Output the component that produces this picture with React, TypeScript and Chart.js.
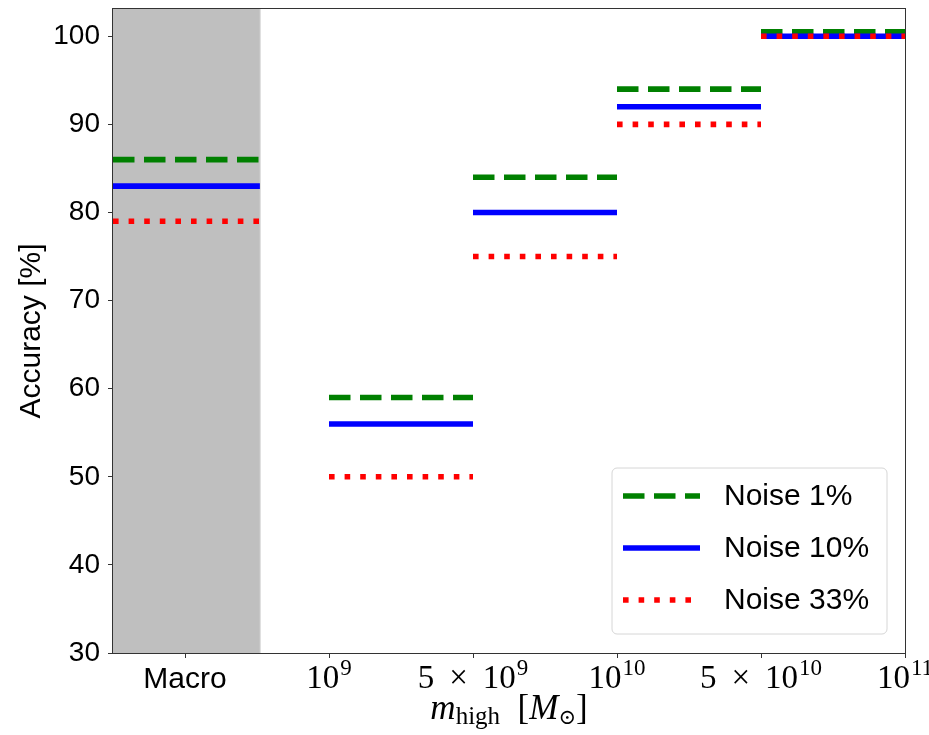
import React, { useEffect, useRef } from 'react';
import { Chart, registerables } from 'chart.js';

Chart.register(...registerables);

// ---- data ----
const binStart = [0, 1.5, 2.5, 3.5, 4.5];
const binEnd = [1.02, 2.5, 3.5, 4.5, 5.5];
const noise1 = [86, 59, 84, 94, 100.5];
const noise10 = [83, 56, 80, 92, 100];
const noise33 = [79, 50, 75, 90, 100];
const seriesLabels = ['Noise 1%', 'Noise 10%', 'Noise 33%'];
const xTickValues = [0.5, 1.5, 2.5, 3.5, 4.5, 5.5];
const xTickLabels = ['Macro', '10^9', '5 × 10^9', '10^10', '5 × 10^10', '10^11'];
const yTickValues = [30, 40, 50, 60, 70, 80, 90, 100];
const macroSpan = [0, 1.02];
const yLabel = 'Accuracy [%]';

const COLORS = ['#008000', '#0000ff', '#ff0000'];
const DASHES: number[][] = [[21.5, 9.5], [], [5.6, 10]];
const LW = 5.6;

const SANS = '"Liberation Sans", Arial, sans-serif';
const SERIF = '"Liberation Serif", "DejaVu Serif", serif';

function segments(values: number[]) {
  const pts: { x: number; y: number | null }[] = [];
  values.forEach((v, i) => {
    pts.push({ x: binStart[i], y: v });
    pts.push({ x: binEnd[i], y: v });
    if (i < values.length - 1) pts.push({ x: binEnd[i], y: null });
  });
  return pts;
}

const customPlugin = {
  id: 'customDecor',
  beforeDraw(chart: any) {
    const { ctx, width, height } = chart;
    ctx.save();
    ctx.fillStyle = '#ffffff';
    ctx.fillRect(0, 0, width, height);
    ctx.restore();
  },
  beforeDatasetsDraw(chart: any) {
    const { ctx, chartArea } = chart;
    const x = chart.scales.x;
    const x0 = x.getPixelForValue(macroSpan[0]);
    const x1 = x.getPixelForValue(macroSpan[1]);
    ctx.save();
    ctx.fillStyle = '#bfbfbf';
    ctx.fillRect(x0, chartArea.top, x1 - x0, chartArea.bottom - chartArea.top);
    ctx.strokeStyle = 'rgba(0,0,0,0.12)';
    ctx.lineWidth = 1;
    ctx.beginPath();
    ctx.moveTo(Math.round(x1) + 0.5, chartArea.top);
    ctx.lineTo(Math.round(x1) + 0.5, chartArea.bottom);
    ctx.stroke();
    ctx.restore();
  },
  afterDraw(chart: any) {
    const { ctx, chartArea } = chart;
    const x = chart.scales.x;
    ctx.save();
    // spines
    ctx.strokeStyle = '#333333';
    ctx.lineWidth = 1;
    ctx.strokeRect(
      Math.round(chartArea.left) - 0.5,
      Math.round(chartArea.top) - 0.5,
      Math.round(chartArea.right - chartArea.left) + 1,
      Math.round(chartArea.bottom - chartArea.top) + 1
    );

    // x tick labels
    const baseY = chartArea.bottom + 35;
    ctx.fillStyle = '#000';
    ctx.textBaseline = 'alphabetic';
    xTickValues.forEach((v, i) => {
      const px = x.getPixelForValue(v);
      const lab = xTickLabels[i];
      if (lab.indexOf('^') < 0) {
        ctx.font = `30px ${SANS}`;
        ctx.textAlign = 'center';
        ctx.fillText(lab, px, baseY);
      } else {
        const [baseRaw, exp] = lab.split('^');
        const base = baseRaw.replace(' × ', '\u2009 × \u2009');
        ctx.textAlign = 'left';
        ctx.font = `33px ${SERIF}`;
        const wb = ctx.measureText(base).width;
        ctx.font = `23px ${SERIF}`;
        const we = ctx.measureText(exp).width;
        const sx = px - (wb + we + 1) / 2;
        ctx.font = `33px ${SERIF}`;
        ctx.fillText(base, sx, baseY);
        ctx.font = `23px ${SERIF}`;
        ctx.fillText(exp, sx + wb + 1, baseY - 13);
      }
    });

    // x title: m_high [M_sun]
    const pieces = [
      { t: 'm', f: `italic 35px ${SERIF}`, dy: 0 },
      { t: 'high', f: `25px ${SERIF}`, dy: 5 },
      { t: '  [', f: `35px ${SERIF}`, dy: 0 },
      { t: 'M', f: `italic 35px ${SERIF}`, dy: 0 },
      { t: '⊙', f: `21px ${SERIF}`, dy: 5 },
      { t: ']', f: `35px ${SERIF}`, dy: 0 },
    ];
    let total = 0;
    const widths = pieces.map((p) => {
      ctx.font = p.f;
      const w = ctx.measureText(p.t).width;
      total += w;
      return w;
    });
    const cx = (chartArea.left + chartArea.right) / 2;
    let tx = cx - total / 2;
    const titleY = chartArea.bottom + 66;
    ctx.textAlign = 'left';
    pieces.forEach((p, i) => {
      ctx.font = p.f;
      ctx.fillText(p.t, tx, titleY + p.dy);
      tx += widths[i];
    });

    // legend
    const bw = 275;
    const bh = 166;
    const bx = chartArea.right - 18 - bw;
    const by = chartArea.bottom - 19 - bh;
    ctx.beginPath();
    const r = 5;
    ctx.moveTo(bx + r, by);
    ctx.arcTo(bx + bw, by, bx + bw, by + bh, r);
    ctx.arcTo(bx + bw, by + bh, bx, by + bh, r);
    ctx.arcTo(bx, by + bh, bx, by, r);
    ctx.arcTo(bx, by, bx + bw, by, r);
    ctx.closePath();
    ctx.fillStyle = 'rgba(255,255,255,0.8)';
    ctx.fill();
    ctx.strokeStyle = '#d6d6d6';
    ctx.lineWidth = 1;
    ctx.stroke();

    seriesLabels.forEach((lab, i) => {
      const ry = by + 28 + i * 52;
      ctx.save();
      ctx.strokeStyle = COLORS[i];
      ctx.lineWidth = LW;
      ctx.lineCap = 'butt';
      ctx.setLineDash(DASHES[i]);
      ctx.beginPath();
      ctx.moveTo(bx + 11, ry);
      ctx.lineTo(bx + 88, ry);
      ctx.stroke();
      ctx.restore();
      ctx.fillStyle = '#000';
      ctx.font = `30px ${SANS}`;
      ctx.textAlign = 'left';
      ctx.textBaseline = 'middle';
      ctx.fillText(lab, bx + 112, ry + 1);
    });
    ctx.restore();
  },
};

export default function App() {
  const ref = useRef<HTMLCanvasElement | null>(null);
  useEffect(() => {
    document.body.style.margin = '0';
    const canvas = ref.current;
    if (!canvas) return;
    const series = [noise1, noise10, noise33];
    const chart = new Chart(canvas, {
      type: 'line',
      data: {
        datasets: series.map((vals, i) => ({
          label: seriesLabels[i],
          data: segments(vals) as any,
          borderColor: COLORS[i],
          backgroundColor: COLORS[i],
          borderWidth: LW,
          borderDash: DASHES[i],
          borderCapStyle: 'butt',
          pointRadius: 0,
          pointHoverRadius: 0,
          fill: false,
          spanGaps: false,
          tension: 0,
          order: 3 - i,
        })),
      },
      options: {
        responsive: false,
        maintainAspectRatio: false,
        devicePixelRatio: 1,
        animation: false,
        events: [],
        layout: { padding: { left: 0, right: 24, top: 9, bottom: 0 } },
        plugins: {
          legend: { display: false },
          tooltip: { enabled: false },
          title: { display: false },
        },
        scales: {
          x: {
            type: 'linear',
            min: 0,
            max: 5.5,
            afterBuildTicks: (scale: any) => {
              scale.ticks = xTickValues.map((v) => ({ value: v }));
            },
            afterFit: (scale: any) => {
              scale.height = 82;
              scale.paddingLeft = 0;
              scale.paddingRight = 0;
            },
            ticks: {
              autoSkip: false,
              maxRotation: 0,
              callback: () => '',
            },
            grid: {
              drawOnChartArea: false,
              drawTicks: true,
              tickLength: 5,
              color: '#333333',
              lineWidth: 1,
            },
            border: { display: false },
          },
          y: {
            type: 'linear',
            min: 30,
            max: 103.1,
            afterBuildTicks: (scale: any) => {
              scale.ticks = yTickValues.map((v) => ({ value: v }));
            },
            afterFit: (scale: any) => {
              scale.width = 113;
              scale.paddingTop = 0;
              scale.paddingBottom = 0;
            },
            ticks: {
              includeBounds: false,
              color: '#000',
              padding: 8,
              font: { family: SANS, size: 28 },
              callback: (v: any) => String(v),
            },
            grid: {
              drawOnChartArea: false,
              drawTicks: true,
              tickLength: 5,
              color: '#333333',
              lineWidth: 1,
            },
            border: { display: false },
            title: {
              display: true,
              text: yLabel,
              color: '#000',
              font: { family: SANS, size: 30 },
              padding: { top: 14, bottom: 0 },
            },
          },
        },
      },
      plugins: [customPlugin],
    } as any);
    return () => chart.destroy();
  }, []);
  return (
    <div style={{ position: 'absolute', left: 0, top: 0, width: 929, height: 735 }}>
      <canvas ref={ref} width={929} height={735} style={{ width: 929, height: 735, display: 'block' }} />
    </div>
  );
}
